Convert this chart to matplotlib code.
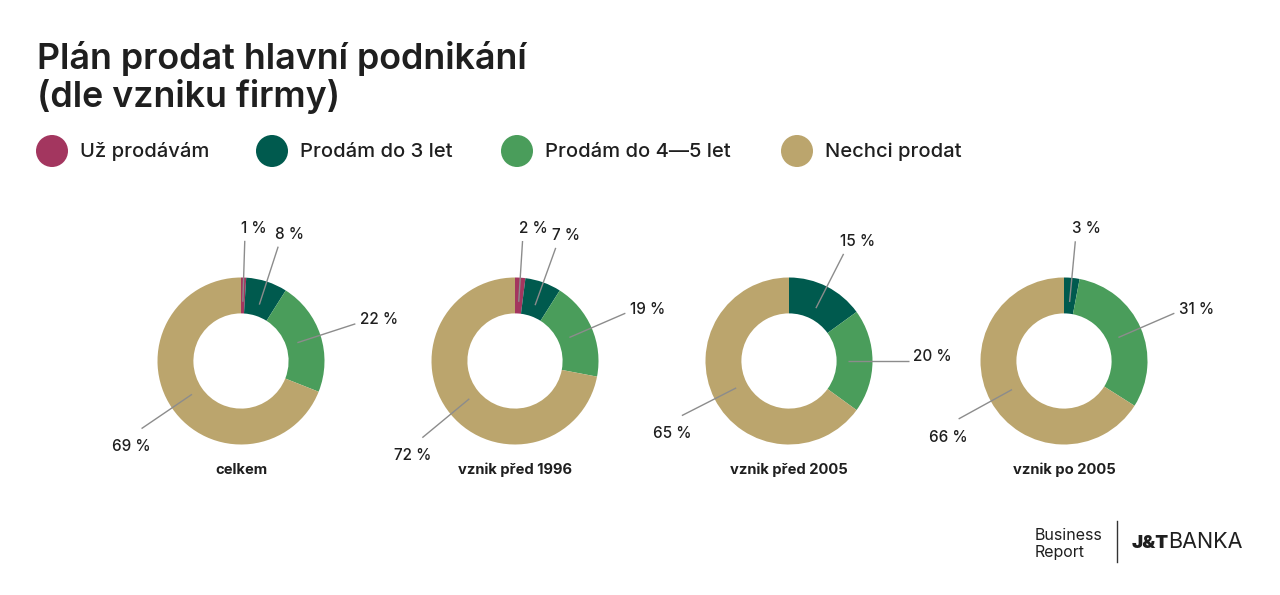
import numpy as np
import matplotlib
matplotlib.use('Agg')
import matplotlib.pyplot as plt
from matplotlib import patches

# data
groups = ['celkem', 'vznik před 1996', 'vznik před 2005', 'vznik po 2005']
categories = ['Už prodávám', 'Prodám do 3 let', 'Prodám do 4—5 let', 'Nechci prodat']
already_selling = [1, 2, 0, 0]
sell_within_3 = [8, 7, 15, 3]
sell_within_4_5 = [22, 19, 20, 31]
not_selling = [69, 72, 65, 66]

COLORS = ['#a3365f', '#005a4e', '#4a9d5b', '#bba56d']
TEXT = '#1f1f1f'
LEADER = '#8c8c8c'

plt.rcParams['font.family'] = ['Inter', 'DejaVu Sans']

W, H = 1280, 595
fig = plt.figure(figsize=(12.8, 5.95), dpi=100)
fig.patch.set_facecolor('white')

# overlay in pixel coords for title / legend / logo
ov = fig.add_axes([0, 0, 1, 1])
ov.set_xlim(0, W)
ov.set_ylim(H, 0)
ov.axis('off')

ov.text(37, 69, 'Plán prodat hlavní podnikání', fontsize=25.8, fontweight='semibold',
        color=TEXT, va='baseline', ha='left')
ov.text(37, 107, '(dle vzniku firmy)', fontsize=25.8, fontweight='semibold',
        color=TEXT, va='baseline', ha='left')

leg_x = [52, 272, 517, 797]
for x, lab, c in zip(leg_x, categories, COLORS):
    ov.add_patch(patches.Circle((x, 151), 16, facecolor=c, edgecolor='none'))
    ov.text(x + 28, 157, lab, fontsize=14.5, fontweight='medium', color=TEXT,
            va='baseline', ha='left')

# logo
ov.text(1035, 540, 'Business', fontsize=11.5, color=TEXT, va='baseline', ha='left')
ov.text(1035, 557, 'Report', fontsize=11.5, color=TEXT, va='baseline', ha='left')
ov.plot([1117, 1117], [521, 562], color='#333333', lw=1)
ov.text(1132, 548, 'J&T', fontsize=13.5, fontweight='black', color=TEXT,
        va='baseline', ha='left')
ov.text(1168, 548, 'BANKA', fontsize=15.5, color=TEXT, va='baseline', ha='left')

# donuts
centers_x = [241, 515, 789, 1064]
CY = 361
R_PX = 83.5
SIDE = 420
L = SIDE / 2 / R_PX


def leader(ax, theta, txt):
    t = np.radians(theta)
    d = np.array([np.sin(t), np.cos(t)])
    p0 = 0.71 * d
    p1 = 1.44 * d
    ax.plot([p0[0], p1[0]], [p0[1], p1[1]], color=LEADER, lw=1.0,
            solid_capstyle='butt')
    kw = dict(fontsize=11, fontweight='medium', color=TEXT)
    if theta < 40 or theta > 320:
        ax.text(p1[0] - 0.04, p1[1] + 0.06, txt, ha='left', va='bottom', **kw)
    elif theta < 150:
        ax.text(p1[0] + 0.05, p1[1] + 0.05, txt, ha='left', va='center', **kw)
    else:
        ax.text(p1[0] + 0.11, p1[1] - 0.13, txt, ha='right', va='top', **kw)


for i, cx in enumerate(centers_x):
    ax = fig.add_axes([(cx - SIDE / 2) / W, (H - CY - SIDE / 2) / H, SIDE / W, SIDE / H])
    vals = [already_selling[i], sell_within_3[i], sell_within_4_5[i], not_selling[i]]
    ax.pie(vals, colors=COLORS, startangle=90, counterclock=False, radius=1,
           wedgeprops=dict(width=0.43, linewidth=0), frame=True)
    ax.set_xlim(-L, L)
    ax.set_ylim(-L, L)
    ax.set_aspect('equal')
    ax.axis('off')

    total = float(sum(vals))
    cum = 0
    for v in vals:
        mid = (cum + v / 2) / total * 360
        cum += v
        if v == 0:
            continue
        leader(ax, mid, f'{v} %')

    ax.text(0, (CY - 474) / R_PX, groups[i], ha='center', va='baseline',
            fontsize=10.6, fontweight='bold', color=TEXT)

fig.savefig('out.png', dpi=100, facecolor='white')
